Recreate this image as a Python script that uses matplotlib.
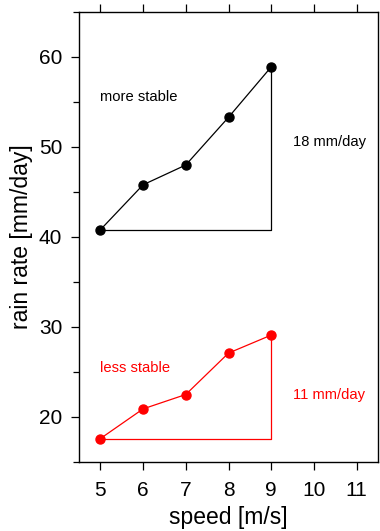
import matplotlib
matplotlib.use('Agg')
import matplotlib.pyplot as plt
from matplotlib.ticker import MultipleLocator

plt.rcParams['font.family'] = ['Liberation Sans', 'DejaVu Sans']

speed = [5, 6, 7, 8, 9]
rain_more_stable = [40.8, 45.8, 48.0, 53.3, 58.9]
rain_less_stable = [17.6, 20.9, 22.5, 27.1, 29.1]
xticks = [5, 6, 7, 8, 9, 10, 11]
yticks = [20, 30, 40, 50, 60]

fig = plt.figure(figsize=(3.8, 5.31), dpi=100)
ax = fig.add_axes([79 / 380, 69 / 531, 299 / 380, 450 / 531])


def draw_series(x, y, color, label, label_y, diff_label, diff_y):
    ax.plot(x, y, '-o', color=color, lw=0.9, ms=6.5, clip_on=False)
    # triangle showing the increase from first to last point
    ax.plot([x[0], x[-1], x[-1]], [y[0], y[0], y[-1]], color=color, lw=0.9)
    ax.text(x[0], label_y, label, color=color, fontsize=10.6, va='center', ha='left')
    ax.text(x[-1] + 0.5, diff_y, diff_label, color=color, fontsize=10.6, va='center', ha='left')


draw_series(speed, rain_more_stable, 'black', 'more stable', 55.6, '18 mm/day', 50.6)
draw_series(speed, rain_less_stable, 'red', 'less stable', 25.5, '11 mm/day', 22.5)

ax.set_xlim(4.5, 11.5)
ax.set_ylim(15, 65)
ax.set_xticks(xticks)
ax.set_yticks(yticks)
ax.yaxis.set_minor_locator(MultipleLocator(5))
ax.tick_params(axis='both', which='major', direction='out', length=6, width=0.9,
               labelsize=15, top=True, right=False, pad=8)
ax.tick_params(axis='y', which='major', pad=6)
ax.tick_params(axis='y', which='minor', direction='out', length=4, width=0.9, right=False)
for s in ax.spines.values():
    s.set_linewidth(1.0)

ax.set_xlabel('speed [m/s]', fontsize=16.5, labelpad=4)
ax.set_ylabel('rain rate [mm/day]', fontsize=16.5, labelpad=4)

fig.savefig('out.png', dpi=100)
